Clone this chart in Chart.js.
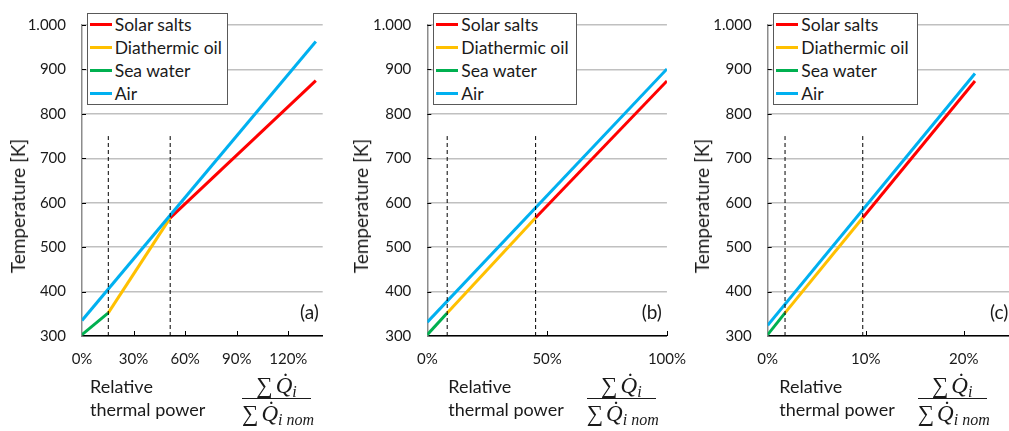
<!DOCTYPE html>
<html><head><meta charset="utf-8">
<script src="https://cdn.jsdelivr.net/npm/chart.js@4.4.1/dist/chart.umd.min.js"></script>
<style>
html,body{margin:0;padding:0;background:#fff;}
#wrap{position:relative;width:1009px;height:431px;overflow:hidden;font-family:Lato,'Open Sans',sans-serif;color:#1a1a1a;}
canvas{position:absolute;top:0;}
.t{position:absolute;white-space:nowrap;}
.ytitle{position:absolute;white-space:nowrap;font-size:19px;line-height:22px;transform:translate(-50%,-50%) rotate(-90deg);}
.legend{position:absolute;background:#fff;border:1.5px solid #595959;box-sizing:border-box;}
.li{position:absolute;left:0;height:23px;font-size:17.5px;line-height:23px;white-space:nowrap;}
.li span.sw{position:absolute;left:2px;top:10px;width:22px;height:3px;}
.li span.tx{position:absolute;left:27px;top:0;}
.lab{position:absolute;font-size:18px;line-height:22.6px;white-space:nowrap;}
.m{position:absolute;font-family:'Liberation Serif','DejaVu Serif',serif;font-size:23px;line-height:22px;text-align:center;white-space:nowrap;}
.m i{font-style:italic;}
.m .sig{margin-right:3px;}
.m sub{font-size:16px;vertical-align:-4px;font-style:italic;line-height:0;}
.bar{position:absolute;height:1.3px;background:#1a1a1a;}
</style></head>
<body>
<div id="wrap"></div>
<script>
// ---- shared ----
const seriesNames = ['Solar salts','Diathermic oil','Sea water','Air'];
const seriesColors = ['#ff0000','#ffc000','#00b050','#00b0f0'];
const yTickValues = [300,400,500,600,700,800,900,1000];
const yTickLabels = ['300','400','500','600','700','800','900','1.000'];
const dashY = [300,750];

// ---- panel (a) ----
const xTickValuesA = [0,0.3,0.6,0.9,1.2];
const xTickLabelsA = ['0%','30%','60%','90%','120%'];
const saltA_x = [0.513,1.36], saltA_y = [566,875];
const oilA_x  = [0.153,0.513], oilA_y = [352,566];
const seaA_x  = [0,0.153],    seaA_y = [303,352];
const airA_x  = [0,1.36],     airA_y = [335,963];
const dashA_x = [0.153,0.513];

// ---- panel (b) ----
const xTickValuesB = [0,0.5,1.0];
const xTickLabelsB = ['0%','50%','100%'];
const saltB_x = [0.452,1.0], saltB_y = [566,874];
const oilB_x  = [0.083,0.452], oilB_y = [352,566];
const seaB_x  = [0,0.083],    seaB_y = [303,352];
const airB_x  = [0,1.0],      airB_y = [331,901];
const dashB_x = [0.083,0.452];

// ---- panel (c) ----
const xTickValuesC = [0,0.1,0.2];
const xTickLabelsC = ['0%','10%','20%'];
const saltC_x = [0.097,0.2115], saltC_y = [566,874];
const oilC_x  = [0.0177,0.097], oilC_y = [352,566];
const seaC_x  = [0,0.0177],    seaC_y = [303,352];
const airC_x  = [0,0.2115],    airC_y = [324,891];
const dashC_x = [0.0177,0.097];

const panels = [
  {tag:'(a)', left:0, width:345, chartLeft:82, chartRight:322.7, xMax:1.4,
   xt:xTickValuesA, xl:xTickLabelsA,
   series:[[saltA_x,saltA_y],[oilA_x,oilA_y],[seaA_x,seaA_y],[airA_x,airA_y]], dash:dashA_x,
   ytitleX:17.5, tagX:300, legL:86.7, legW:141, relX:90, fracL:242, fracW:69},
  {tag:'(b)', left:340, width:360, chartLeft:87.3, chartRight:327.7, xMax:1.0,
   xt:xTickValuesB, xl:xTickLabelsB,
   series:[[saltB_x,saltB_y],[oilB_x,oilB_y],[seaB_x,seaB_y],[airB_x,airB_y]], dash:dashB_x,
   ytitleX:20.5, tagX:301.7, legL:93.3, legW:144, relX:108.3, fracL:246.7, fracW:69.3},
  {tag:'(c)', left:680, width:340, chartLeft:87.7, chartRight:332.7, xMax:0.25,
   xt:xTickValuesC, xl:xTickLabelsC,
   series:[[saltC_x,saltC_y],[oilC_x,oilC_y],[seaC_x,seaC_y],[airC_x,airC_y]], dash:dashC_x,
   ytitleX:22, tagX:310, legL:93.3, legW:144.7, relX:99.3, fracL:237.7, fracW:69}
];

const CH = 380, TOP = 14, BOTTOM = 336;
const wrap = document.getElementById('wrap');

const tickMarks = {
  id:'tickMarks',
  beforeDatasetsDraw(chart){
    const {ctx, chartArea:a, scales:{x,y}} = chart;
    ctx.save(); ctx.strokeStyle='#000'; ctx.lineWidth=1;
    x.ticks.forEach(t=>{ if(t.value===0) return;
      const px=Math.round(x.getPixelForValue(t.value))+0.5;
      ctx.beginPath(); ctx.moveTo(px,a.bottom); ctx.lineTo(px,a.bottom-5); ctx.stroke(); });
    y.ticks.forEach(t=>{ if(t.value===300) return;
      const py=Math.round(y.getPixelForValue(t.value))+0.5;
      ctx.beginPath(); ctx.moveTo(a.left,py); ctx.lineTo(a.left+4,py); ctx.stroke(); });
    ctx.restore();
  }
};

panels.forEach(p=>{
  const cv=document.createElement('canvas');
  cv.width=p.width; cv.height=CH;
  cv.style.left=p.left+'px'; cv.style.width=p.width+'px'; cv.style.height=CH+'px';
  wrap.appendChild(cv);

  const datasets=[];
  p.dash.forEach(dx=>{
    datasets.push({data:dashY.map(v=>({x:dx,y:v})), borderColor:'#000', borderWidth:1, borderDash:[4,3], order:0});
  });
  const orderMap=[2,3,4,1];
  p.series.forEach((s,i)=>{
    datasets.push({label:seriesNames[i], data:s[0].map((xv,k)=>({x:xv,y:s[1][k]})),
      borderColor:seriesColors[i], borderWidth:3, order:orderMap[i]});
  });

  new Chart(cv,{
    type:'scatter',
    data:{datasets},
    options:{
      responsive:false, animation:false, devicePixelRatio:1,
      showLine:true,
      elements:{point:{radius:0,hoverRadius:0}, line:{tension:0, borderCapStyle:'butt'}},
      layout:{padding:{left:0,top:TOP,right:p.width-p.chartRight,bottom:0}},
      plugins:{legend:{display:false}, tooltip:{enabled:false}},
      events:[],
      scales:{
        x:{type:'linear', min:0, max:p.xMax,
          afterBuildTicks:s=>{s.ticks=p.xt.map(v=>({value:v}));},
          afterFit:s=>{s.height=CH-BOTTOM;},
          grid:{display:false, drawTicks:false},
          border:{display:true,color:'#000',width:1.5},
          ticks:{padding:14, color:'#1a1a1a', font:{family:'Lato',size:15}, maxRotation:0, autoSkip:false,
            callback:(v,i)=>p.xl[i]}
        },
        y:{type:'linear', min:300, max:1000,
          afterBuildTicks:s=>{s.ticks=yTickValues.map(v=>({value:v}));},
          afterFit:s=>{s.width=p.chartLeft;},
          grid:{color:'#c0c0c0', lineWidth:1.5, drawTicks:false},
          border:{display:true,color:'#8c8c8c',width:1.5},
          ticks:{padding:16, color:'#1a1a1a', font:{family:'Lato',size:15}, autoSkip:false,
            callback:(v)=>{const i=yTickValues.indexOf(v); return i>=0?yTickLabels[i]:'';}}
        }
      }
    },
    plugins:[tickMarks]
  });

  const yt=document.createElement('div'); yt.className='ytitle'; yt.textContent='Temperature [K]';
  yt.style.left=(p.left+p.ytitleX)+'px'; yt.style.top='205.8px'; wrap.appendChild(yt);
  const tg=document.createElement('div'); tg.className='t'; tg.textContent=p.tag;
  tg.style.cssText+='font-size:19px;line-height:22px;left:'+(p.left+p.tagX)+'px;top:301px;';
  wrap.appendChild(tg);
  const lg=document.createElement('div'); lg.className='legend';
  lg.style.left=(p.left+p.legL)+'px'; lg.style.top='13px'; lg.style.width=p.legW+'px'; lg.style.height='92px';
  seriesNames.forEach((n,i)=>{
    const li=document.createElement('div'); li.className='li'; li.style.top=(-0.7+i*23)+'px';
    li.innerHTML='<span class="sw" style="background:'+seriesColors[i]+'"></span><span class="tx">'+n+'</span>';
    lg.appendChild(li);
  });
  wrap.appendChild(lg);
  const rl=document.createElement('div'); rl.className='lab';
  rl.style.left=(p.left+p.relX)+'px'; rl.style.top='375.4px';
  rl.innerHTML='Relative<br>thermal power'; wrap.appendChild(rl);
  const nu=document.createElement('div'); nu.className='m';
  nu.style.left=(p.left+p.fracL)+'px'; nu.style.width=p.fracW+'px'; nu.style.top='375px';
  nu.innerHTML='<span class="sig">∑</span><i>Q̇</i><sub>i</sub>'; wrap.appendChild(nu);
  const br=document.createElement('div'); br.className='bar';
  br.style.left=(p.left+p.fracL)+'px'; br.style.width=p.fracW+'px'; br.style.top='397.7px'; wrap.appendChild(br);
  const de=document.createElement('div'); de.className='m';
  de.style.left=(p.left+p.fracL)+'px'; de.style.width=p.fracW+'px'; de.style.top='403px';
  de.innerHTML='<span class="sig">∑</span><i>Q̇</i><sub>i nom</sub>'; wrap.appendChild(de);
});
</script>
</body></html>
